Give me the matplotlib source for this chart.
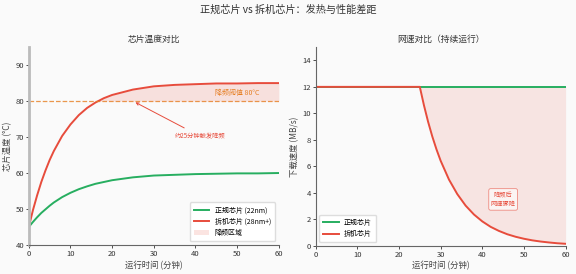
import matplotlib
matplotlib.use("Agg")
import matplotlib.pyplot as plt
import numpy as np

plt.rcParams['font.family'] = ['Noto Sans CJK SC', 'DejaVu Sans']

# ---- data ----
temp_t = [0, 1, 2, 3, 4, 5, 6, 8, 10, 12, 14, 16, 18, 20, 25, 30, 35, 40, 45, 50, 55, 60]
temp_genuine = [45, 46.4, 47.7, 48.9, 49.9, 50.9, 51.8, 53.3, 54.5, 55.5, 56.3, 57.0, 57.5, 58.0,
                58.8, 59.3, 59.5, 59.7, 59.8, 59.9, 59.9, 60.0]
temp_salvage = [45, 49.7, 53.8, 57.5, 60.7, 63.6, 66.1, 70.3, 73.5, 76.1, 78.1, 79.6, 80.8, 81.7,
                83.2, 84.1, 84.5, 84.7, 84.9, 84.9, 85.0, 85.0]
throttle_temp = 80

speed_t = [0, 25, 26, 27, 28, 29, 30, 32, 34, 36, 38, 40, 42, 44, 46, 48, 50, 52, 54, 56, 58, 60]
speed_genuine = [12] * len(speed_t)
speed_salvage = [12, 12, 10.6, 9.35, 8.25, 7.28, 6.42, 5.0, 3.9, 3.03, 2.36, 1.84, 1.43, 1.12,
                 0.87, 0.68, 0.53, 0.41, 0.32, 0.25, 0.19, 0.15]

GREEN = '#27ae60'
RED = '#e74c3c'
ORANGE = '#e67e22'
BG = '#fafafa'

fig = plt.figure(figsize=(5.76, 2.74), dpi=100, facecolor=BG)
ax1 = fig.add_axes([0.050, 0.106, 0.434, 0.722], facecolor=BG)
ax2 = fig.add_axes([0.548, 0.103, 0.434, 0.725], facecolor=BG)

fig.suptitle('正规芯片 vs 拆机芯片：发热与性能差距', fontsize=7.3, color='#333333', y=0.982)

# ---- left ----
ax1.plot(temp_t, temp_genuine, color=GREEN, lw=1.4, label='正规芯片 (22nm)')
ax1.plot(temp_t, temp_salvage, color=RED, lw=1.4, label='拆机芯片 (28nm+)')
ax1.axhline(throttle_temp, color=ORANGE, ls='--', lw=0.9, alpha=0.8)
ts = np.array(temp_t, dtype=float)
rs = np.array(temp_salvage, dtype=float)
ax1.fill_between(ts, throttle_temp, rs, where=rs >= throttle_temp, interpolate=True,
                 color=RED, alpha=0.15, lw=0, label='降频区域')
ax1.text(50, 82.3, '降频阈值 80°C', color=ORANGE, fontsize=5, ha='center', va='center')
ax1.annotate('约25分钟触发降频', xy=(25, 80), xytext=(41, 70.3), color=RED, fontsize=4.5,
             ha='center', va='center',
             arrowprops=dict(arrowstyle='->', color=RED, lw=0.7))
ax1.set_xlim(0, 60)
ax1.set_ylim(40, 95)
ax1.set_xticks(range(0, 61, 10))
ax1.set_yticks(range(40, 91, 10))
ax1.set_title('芯片温度对比', fontsize=6.3, color='#333333', pad=4)
ax1.set_xlabel('运行时间 (分钟)', fontsize=6, color='#444444', labelpad=2)
ax1.set_ylabel('芯片温度 (°C)', fontsize=6, color='#444444', labelpad=2)
ax1.legend(loc='lower right', fontsize=5, frameon=True, framealpha=1, edgecolor='#dddddd',
           borderpad=0.6, handlelength=2.2)

# ---- right ----
ax2.plot(speed_t, speed_genuine, color=GREEN, lw=1.4, label='正规芯片')
ax2.plot(speed_t, speed_salvage, color=RED, lw=1.4, label='拆机芯片')
st = np.array(speed_t, dtype=float)
ax2.fill_between(st, speed_salvage, speed_genuine, where=st >= 25, color=RED, alpha=0.12, lw=0)
ax2.text(45, 3.5, '降频后\n网速骤降', color=RED, fontsize=4.5, ha='center', va='center',
         linespacing=1.3,
         bbox=dict(boxstyle='round,pad=0.3', fc='white', ec=RED, lw=0.6, alpha=0.6))
ax2.set_xlim(0, 60)
ax2.set_ylim(0, 15)
ax2.set_xticks(range(0, 61, 10))
ax2.set_yticks(range(0, 15, 2))
ax2.set_title('网速对比（持续运行）', fontsize=6.3, color='#333333', pad=4)
ax2.set_xlabel('运行时间 (分钟)', fontsize=6, color='#444444', labelpad=2)
ax2.set_ylabel('下载速度 (MB/s)', fontsize=6, color='#444444', labelpad=2)
ax2.legend(loc='lower left', fontsize=5, frameon=True, framealpha=1, edgecolor='#dddddd',
           borderpad=0.6, handlelength=2.2)

for ax in (ax1, ax2):
    ax.spines['top'].set_visible(False)
    ax.spines['right'].set_visible(False)
    ax.spines['left'].set_color('#666666')
    ax.spines['bottom'].set_color('#666666')
    ax.spines['left'].set_linewidth(0.8)
    ax.spines['bottom'].set_linewidth(0.8)
    ax.tick_params(labelsize=5.5, length=2, width=0.6, pad=1.5, colors='#333333')
ax1.spines['left'].set_color('#bbbbbb')
ax1.spines['left'].set_linewidth(2)

fig.savefig('out.png', dpi=100, facecolor=BG)
